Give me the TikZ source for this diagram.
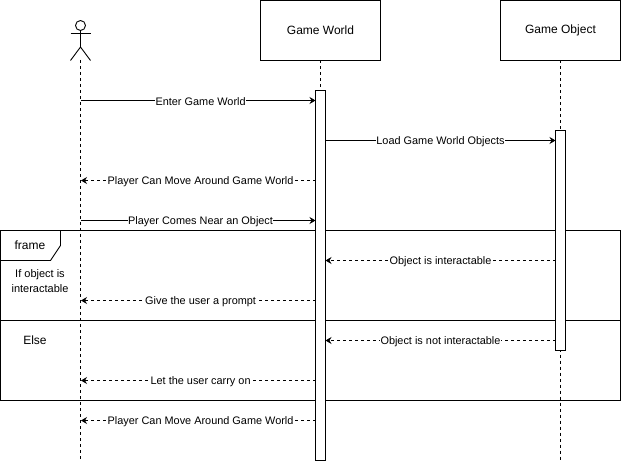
\documentclass[tikz,border=0pt]{standalone}
\usepackage{fontspec}
\setmainfont{Liberation Sans}
\usetikzlibrary{arrows.meta}
\tikzset{
  x=1pt,y=-1pt,
  every path/.style={line width=0.9pt},
  headbox/.style={draw,fill=white,minimum width=120pt,minimum height=60pt,inner sep=0pt,outer sep=0pt,font=\fontsize{12}{14}\selectfont},
  actbar/.style={draw,fill=white,minimum width=10pt,inner sep=0pt,outer sep=0pt},
  lifeline/.style={dash pattern=on 3pt off 3pt},
  callmsg/.style={-{Stealth[length=6pt,width=7pt,inset=2pt]}},
  replymsg/.style={callmsg,dash pattern=on 3pt off 3pt},
  msglabel/.style={fill=white,inner xsep=0.2pt,inner ysep=1pt,yshift=-1.1pt,font=\fontsize{10.9}{13}\selectfont},
  plainlabel/.style={inner sep=0pt,align=center,yshift=-0.5pt},
}
\begin{document}
\begin{tikzpicture}
\useasboundingbox (0,0) rectangle (621,462);
\fill[white] (0,0) rectangle (621,462);

% lifeline anchors
\coordinate (actorfoot) at (80.5,60);
\coordinate (actorend) at (80.5,460.5);
\coordinate (worldfoot) at (320.5,60.5);
\coordinate (worldtop) at (320.5,90.5);
\coordinate (objfoot) at (560.5,60.5);
\coordinate (objend) at (560.5,460.5);

% lifelines
\draw[lifeline] (actorfoot) -- (actorend);
\draw[lifeline] (worldfoot) -- (worldtop);
\draw[lifeline] (objfoot) -- (objend);

% actor
\node[draw,circle,minimum size=10pt,inner sep=0pt,outer sep=0pt] (head) at (80.5,25.5) {};
\coordinate (hip) at (80.5,47);
\coordinate (armL) at (70.5,33.5);
\coordinate (armR) at (90.5,33.5);
\coordinate (legL) at (70.5,60.5);
\coordinate (legR) at (90.5,60.5);
\draw (head.south) -- (hip);
\draw (armL) -- (armR);
\draw (legL) -- (hip) -- (legR);

% message ends
\foreach \n/\y in {a/100.5,c/180.5,d/220.5,f/300.5,h/380.5,i/420.5}{
  \coordinate (act\n) at (81,\y);
  \coordinate (wl\n) at (315.5,\y);
}
\coordinate (wrb) at (325.5,140.5);
\coordinate (obb) at (555.5,140.5);
\coordinate (wre) at (325.5,260.5);
\coordinate (obe) at (555.5,260.5);
\coordinate (wrg) at (325.5,340.5);
\coordinate (obg) at (555.5,340.5);

% frame
\node[draw,minimum width=620pt,minimum height=170pt,inner sep=0pt,outer sep=0pt,anchor=north west] (frm) at (0.5,230.5) {};
\coordinate (divL) at (0.5,320.5);
\coordinate (divR) at (620.5,320.5);
\draw (divL) -- (divR);
\draw (0.5,260.5) -- (50.5,260.5) -- (60.5,245.5) -- (60.5,230.5);
\node[plainlabel,font=\fontsize{12}{14}\selectfont] (frmtitle) at (30,245) {frame};
\node[plainlabel,font=\fontsize{11}{15}\selectfont] (cond) at (40,280.5) {If object is\\interactable};
\node[plainlabel,font=\fontsize{12}{14}\selectfont] (elsetxt) at (35,339.5) {Else};

% messages
\draw[callmsg] (acta) -- node[msglabel,pos=.51] (m1) {Enter Game World} (wla);
\draw[callmsg] (wrb) -- node[msglabel,pos=.5] (m2) {Load Game World Objects} (obb);
\draw[replymsg] (wlc) -- node[msglabel,pos=.49] (m3) {Player Can Move Around Game World} (actc);
\draw[callmsg] (actd) -- node[msglabel,pos=.51] (m4) {Player Comes Near an Object} (wld);
\draw[replymsg] (obe) -- node[msglabel,pos=.5] (m5) {Object is interactable} (wre);
\draw[replymsg] (wlf) -- node[msglabel,pos=.49] (m6) {Give the user a prompt} (actf);
\draw[replymsg] (obg) -- node[msglabel,pos=.5] (m7) {Object is not interactable} (wrg);
\draw[replymsg] (wlh) -- node[msglabel,pos=.49] (m8) {Let the user carry on} (acth);
\draw[replymsg] (wli) -- node[msglabel,pos=.49] (m9) {Player Can Move Around Game World} (acti);

% activations and heads
\node[actbar,minimum height=370pt,anchor=north] (worldbar) at (320.5,90.5) {};
\node[actbar,minimum height=220pt,anchor=north] (objbar) at (560.5,130.5) {};
\node[headbox] (world) at (320.5,30.5) {Game World};
\node[headbox] (object) at (560.5,30.5) {Game Object};
\end{tikzpicture}
\end{document}
